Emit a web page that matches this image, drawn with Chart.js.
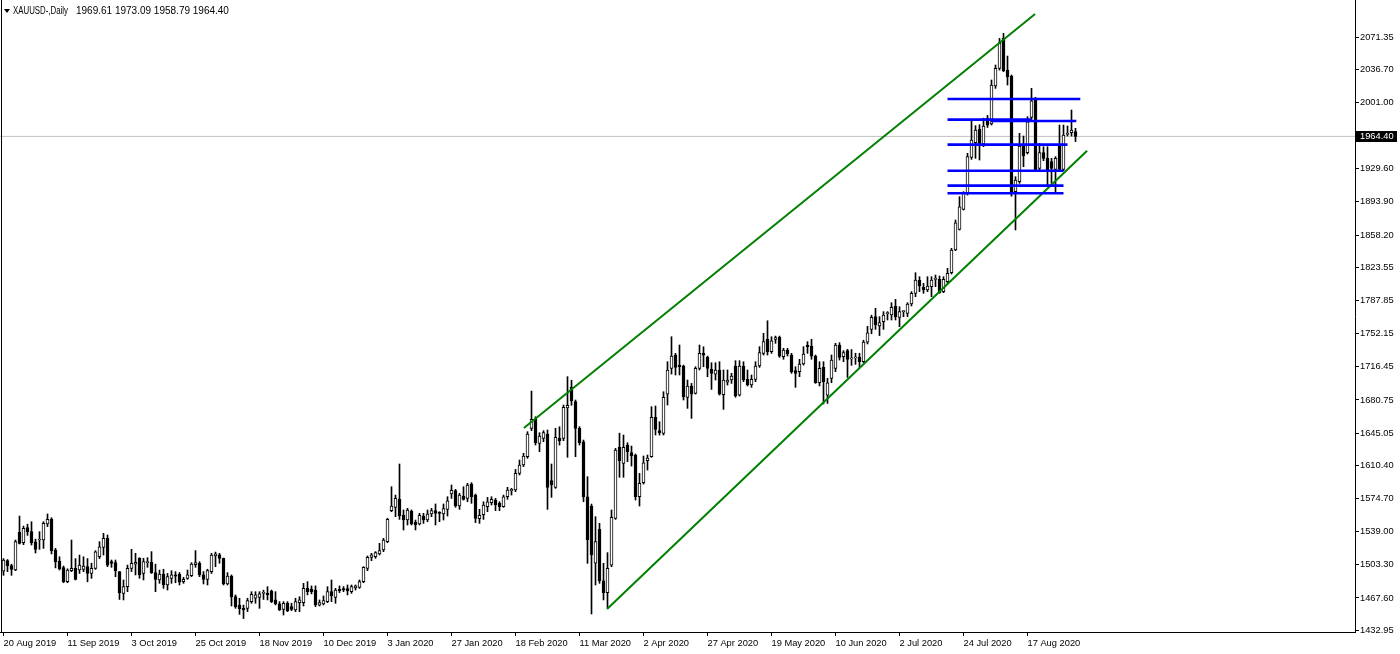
<!DOCTYPE html>
<html>
<head>
<meta charset="utf-8">
<title>XAUUSD Daily</title>
<script src="https://cdn.jsdelivr.net/npm/chart.js@4.4.0/dist/chart.umd.min.js"></script>
<style>
  html, body { margin: 0; padding: 0; background: #fff; }
</style>
</head>
<body>
<canvas id="goldChart" width="1400" height="654"></canvas>
<script>
// daily bars, index 0 = 20 Aug 2019, last = 2 Sep 2020
const opens = [
  1496.6, 1507.8, 1502.4, 1497.7, 1538.2, 1527.1, 1543.3, 1539.0, 1528.0, 1530.0,
  1530.0, 1547.2, 1552.2, 1519.2, 1507.4, 1500.2, 1485.2, 1497.0, 1499.5, 1497.7,
  1498.4, 1501.3, 1494.0, 1499.5, 1512.0, 1522.0, 1531.8, 1506.7, 1505.6, 1495.9,
  1472.6, 1479.8, 1499.5, 1504.0, 1510.3, 1494.0, 1505.6, 1506.0, 1495.0, 1487.0,
  1493.4, 1481.6, 1488.8, 1492.5, 1493.0, 1485.2, 1488.8, 1491.7, 1503.5, 1505.0,
  1492.4, 1487.7, 1496.0, 1512.8, 1514.0, 1510.3, 1482.7, 1491.3, 1469.0, 1460.0,
  1456.5, 1456.5, 1463.7, 1467.3, 1468.3, 1472.6, 1472.6, 1475.1, 1465.5, 1461.2,
  1455.4, 1461.9, 1458.3, 1454.7, 1462.6, 1462.6, 1478.0, 1477.0, 1476.2, 1459.8,
  1461.2, 1463.7, 1474.4, 1468.3, 1477.0, 1477.6, 1477.6, 1474.4, 1478.5, 1479.1,
  1485.2, 1499.5, 1511.4, 1512.1, 1515.0, 1519.3, 1528.2, 1561.6, 1565.2, 1573.8,
  1556.6, 1551.5, 1560.9, 1549.4, 1547.2, 1555.8, 1551.5, 1558.0, 1561.6, 1559.4,
  1558.0, 1563.0, 1579.5, 1583.1, 1566.6, 1577.4, 1574.8, 1590.2, 1578.4, 1553.0,
  1557.3, 1566.0, 1570.2, 1573.0, 1569.5, 1566.0, 1576.6, 1582.8, 1583.8, 1601.8,
  1610.7, 1619.7, 1650.2, 1659.9, 1634.0, 1639.4, 1644.1, 1593.9, 1586.7, 1639.4,
  1639.4, 1672.3, 1694.3, 1678.9, 1650.2, 1635.8, 1576.6, 1566.6, 1505.2, 1541.5,
  1486.2, 1473.3, 1503.0, 1553.3, 1630.0, 1612.5, 1632.2, 1624.0, 1621.5, 1576.6,
  1591.7, 1615.4, 1619.7, 1662.0, 1647.7, 1644.8, 1687.1, 1714.7, 1729.0, 1718.3,
  1717.2, 1683.5, 1695.7, 1687.8, 1714.7, 1730.9, 1726.5, 1713.6, 1708.6, 1712.9,
  1686.5, 1700.0, 1702.2, 1717.3, 1686.0, 1717.3, 1702.9, 1696.8, 1702.9, 1717.3,
  1730.9, 1746.0, 1732.7, 1746.0, 1748.1, 1727.3, 1734.5, 1729.1, 1712.3, 1711.2,
  1719.4, 1739.9, 1738.8, 1728.0, 1699.3, 1715.8, 1686.0, 1704.0, 1714.8, 1739.9,
  1727.3, 1733.8, 1725.0, 1726.0, 1727.0, 1722.0, 1743.0, 1756.7, 1770.4, 1760.3,
  1765.0, 1773.7, 1772.2, 1781.9, 1769.6, 1775.8, 1774.0, 1784.0, 1795.5, 1809.8,
  1802.0, 1799.1, 1802.7, 1810.5, 1810.5, 1797.3, 1808.0, 1817.7, 1842.1, 1864.4,
  1885.9, 1903.1, 1941.9, 1957.6, 1972.0, 1956.2, 1983.8, 1977.7, 2018.6, 2037.6,
  2069.9, 2035.8, 2029.4, 1904.9, 1915.7, 1954.0, 1946.9, 1984.9, 2005.3, 1930.0,
  1946.9, 1940.8, 1937.2, 1928.9, 1955.1, 1928.9, 1966.4, 1968.4, 1969.61
];
const highs = [
  1510.0, 1509.0, 1504.0, 1530.0, 1555.8, 1545.0, 1547.0, 1549.7, 1531.0, 1539.0,
  1549.7, 1558.0, 1554.0, 1521.0, 1512.0, 1502.0, 1499.0, 1530.0, 1510.0, 1513.8,
  1512.0, 1510.0, 1505.0, 1518.5, 1528.2, 1537.2, 1535.4, 1508.5, 1508.5, 1496.0,
  1487.0, 1503.0, 1520.0, 1515.7, 1511.0, 1510.3, 1511.0, 1517.5, 1504.0, 1497.7,
  1498.5, 1494.0, 1497.0, 1496.0, 1495.0, 1489.9, 1497.7, 1505.6, 1518.6, 1506.7,
  1496.0, 1498.5, 1515.7, 1517.0, 1515.7, 1510.6, 1494.9, 1492.4, 1470.9, 1467.3,
  1460.0, 1467.3, 1474.4, 1474.4, 1474.4, 1476.0, 1479.8, 1476.2, 1474.4, 1463.7,
  1463.7, 1463.7, 1461.9, 1467.3, 1469.0, 1483.4, 1485.2, 1480.6, 1480.6, 1465.5,
  1469.8, 1479.8, 1487.0, 1478.0, 1480.6, 1479.8, 1481.6, 1481.6, 1481.6, 1487.0,
  1501.3, 1512.8, 1515.7, 1517.5, 1526.4, 1531.8, 1553.4, 1587.4, 1578.4, 1611.8,
  1562.3, 1564.1, 1562.3, 1551.5, 1558.7, 1558.7, 1562.3, 1564.1, 1568.8, 1560.5,
  1568.8, 1576.6, 1589.2, 1584.5, 1580.2, 1587.4, 1591.0, 1591.7, 1579.5, 1563.0,
  1571.2, 1575.9, 1576.6, 1574.8, 1571.2, 1578.4, 1586.7, 1585.6, 1606.0, 1616.1,
  1623.3, 1646.6, 1690.3, 1662.7, 1645.5, 1647.7, 1648.4, 1611.8, 1650.2, 1651.9,
  1675.3, 1705.8, 1702.0, 1680.7, 1652.0, 1637.6, 1598.2, 1568.7, 1555.1, 1548.0,
  1504.9, 1516.4, 1562.3, 1628.6, 1645.0, 1643.0, 1634.7, 1631.1, 1622.6, 1601.7,
  1620.4, 1621.5, 1673.5, 1674.2, 1657.3, 1689.6, 1721.9, 1748.8, 1730.9, 1739.9,
  1718.3, 1702.2, 1698.6, 1716.5, 1739.9, 1738.0, 1728.0, 1720.8, 1720.8, 1721.9,
  1713.0, 1713.0, 1709.4, 1723.0, 1723.0, 1721.9, 1713.0, 1707.6, 1721.9, 1738.1,
  1752.4, 1766.0, 1748.8, 1749.5, 1749.5, 1736.3, 1736.3, 1730.9, 1716.5, 1724.5,
  1738.1, 1743.5, 1746.0, 1729.1, 1721.9, 1721.9, 1704.0, 1729.1, 1741.7, 1742.4,
  1733.8, 1735.2, 1735.0, 1731.0, 1731.0, 1745.0, 1760.0, 1772.0, 1779.4, 1770.4,
  1775.8, 1775.8, 1785.4, 1789.0, 1781.1, 1776.8, 1785.4, 1797.3, 1817.7, 1813.4,
  1806.2, 1813.4, 1813.4, 1815.2, 1814.1, 1813.4, 1822.4, 1843.9, 1874.4, 1899.5,
  1904.9, 1946.2, 1981.0, 1976.0, 1977.0, 1984.0, 1987.0, 2025.1, 2041.2, 2069.9,
  2075.3, 2050.9, 2030.5, 1921.0, 1967.7, 1964.8, 1985.6, 2016.1, 2006.4, 1956.9,
  1953.3, 1953.3, 1940.8, 1942.6, 1976.6, 1976.6, 1975.6, 1992.8, 1973.09
];
const lows = [
  1492.0, 1496.0, 1492.0, 1497.0, 1525.7, 1525.0, 1535.0, 1524.6, 1516.0, 1520.0,
  1521.0, 1544.4, 1515.0, 1500.0, 1497.7, 1484.0, 1484.0, 1496.0, 1487.0, 1494.0,
  1495.9, 1485.0, 1488.8, 1498.4, 1510.0, 1513.8, 1501.3, 1500.6, 1490.5, 1466.0,
  1465.5, 1474.4, 1496.0, 1492.4, 1488.8, 1487.0, 1500.6, 1494.0, 1474.4, 1483.4,
  1478.0, 1476.2, 1483.4, 1484.0, 1481.6, 1483.4, 1487.7, 1490.6, 1500.6, 1490.6,
  1482.7, 1481.6, 1494.0, 1501.3, 1505.0, 1481.6, 1481.6, 1459.0, 1456.5, 1450.0,
  1445.5, 1453.0, 1461.9, 1461.9, 1456.5, 1466.0, 1465.5, 1462.6, 1460.1, 1454.0,
  1449.3, 1452.9, 1454.0, 1452.9, 1452.9, 1459.0, 1470.9, 1472.0, 1458.3, 1459.0,
  1460.1, 1462.6, 1463.7, 1461.9, 1473.4, 1474.4, 1470.9, 1472.6, 1476.2, 1478.0,
  1484.0, 1497.0, 1507.8, 1510.3, 1513.9, 1517.5, 1527.1, 1560.5, 1555.1, 1552.2,
  1540.8, 1546.2, 1546.2, 1540.8, 1546.2, 1547.9, 1549.7, 1555.1, 1546.2, 1549.7,
  1551.5, 1555.8, 1574.8, 1565.2, 1563.0, 1573.0, 1571.2, 1569.5, 1548.7, 1547.9,
  1552.2, 1560.5, 1567.7, 1561.6, 1561.6, 1565.2, 1573.8, 1578.4, 1582.0, 1600.0,
  1609.0, 1617.9, 1647.7, 1632.2, 1625.0, 1635.8, 1563.0, 1575.9, 1585.6, 1632.2,
  1636.9, 1619.0, 1675.0, 1619.7, 1632.2, 1571.2, 1504.9, 1450.4, 1481.6, 1483.4,
  1465.5, 1456.5, 1501.3, 1552.2, 1597.5, 1597.5, 1614.3, 1609.6, 1573.0, 1566.6,
  1590.2, 1605.3, 1619.0, 1643.0, 1643.0, 1643.0, 1675.3, 1708.6, 1707.6, 1707.6,
  1680.7, 1671.7, 1660.9, 1687.1, 1713.0, 1716.5, 1705.8, 1692.1, 1702.2, 1686.0,
  1670.6, 1696.8, 1698.6, 1683.6, 1685.0, 1700.4, 1695.8, 1694.3, 1700.4, 1715.8,
  1729.1, 1729.1, 1730.9, 1741.7, 1726.6, 1724.5, 1728.0, 1709.4, 1694.3, 1705.8,
  1718.3, 1730.9, 1724.5, 1698.6, 1695.8, 1676.4, 1677.0, 1699.3, 1711.2, 1723.7,
  1721.9, 1705.0, 1718.0, 1719.0, 1716.0, 1721.0, 1741.0, 1752.0, 1756.7, 1750.0,
  1756.7, 1766.8, 1766.8, 1766.8, 1759.6, 1770.4, 1770.4, 1781.9, 1791.9, 1797.3,
  1795.5, 1797.3, 1791.9, 1802.7, 1795.5, 1796.2, 1806.2, 1816.3, 1841.4, 1863.6,
  1885.2, 1901.3, 1939.7, 1940.8, 1939.0, 1953.3, 1974.0, 1976.6, 2016.1, 2035.8,
  2034.0, 2019.7, 1900.0, 1863.7, 1913.9, 1931.8, 1945.4, 1982.7, 1927.5, 1928.2,
  1938.3, 1912.1, 1913.9, 1903.8, 1928.2, 1927.5, 1964.8, 1964.8, 1958.79
];
const closes = [
  1508.5, 1502.4, 1498.4, 1528.2, 1526.4, 1542.5, 1539.0, 1527.0, 1520.0, 1530.3,
  1548.0, 1552.2, 1518.5, 1506.7, 1498.8, 1485.2, 1497.7, 1499.5, 1487.6, 1503.0,
  1502.0, 1494.0, 1499.5, 1517.4, 1522.8, 1531.8, 1503.0, 1504.9, 1497.0, 1473.3,
  1479.8, 1499.5, 1505.0, 1506.0, 1492.4, 1506.7, 1506.0, 1494.9, 1487.7, 1493.4,
  1481.6, 1490.6, 1492.4, 1491.0, 1484.5, 1487.7, 1492.4, 1504.2, 1505.6, 1492.4,
  1487.7, 1497.0, 1513.9, 1515.0, 1510.3, 1482.7, 1491.3, 1469.0, 1458.3, 1456.2,
  1454.7, 1464.8, 1471.6, 1470.9, 1472.0, 1472.6, 1471.0, 1463.7, 1461.2, 1454.7,
  1461.9, 1454.0, 1455.4, 1463.7, 1465.5, 1478.0, 1474.4, 1474.4, 1460.1, 1462.6,
  1464.8, 1474.4, 1469.8, 1476.2, 1475.5, 1476.2, 1475.5, 1479.8, 1480.6, 1485.2,
  1500.6, 1511.4, 1514.0, 1516.4, 1518.6, 1530.0, 1552.3, 1566.6, 1574.8, 1555.8,
  1551.5, 1562.3, 1547.2, 1546.2, 1556.6, 1551.5, 1558.0, 1561.6, 1558.7, 1558.7,
  1563.7, 1572.3, 1583.5, 1566.6, 1578.4, 1573.8, 1589.2, 1576.6, 1553.3, 1556.6,
  1567.7, 1571.2, 1573.8, 1567.7, 1566.0, 1576.6, 1583.8, 1584.5, 1601.8, 1610.7,
  1620.4, 1644.1, 1659.9, 1634.7, 1641.9, 1645.5, 1586.7, 1589.2, 1640.5, 1636.9,
  1672.8, 1674.9, 1680.0, 1650.2, 1634.7, 1576.6, 1530.0, 1513.9, 1528.2, 1486.2,
  1473.3, 1499.5, 1554.4, 1626.8, 1615.5, 1629.7, 1625.0, 1620.4, 1576.6, 1591.0,
  1613.2, 1618.2, 1662.0, 1649.1, 1645.5, 1683.5, 1712.9, 1728.0, 1715.8, 1716.5,
  1684.2, 1695.7, 1687.1, 1714.7, 1730.9, 1729.0, 1714.7, 1709.3, 1712.9, 1687.1,
  1702.0, 1702.2, 1706.5, 1685.0, 1717.3, 1702.2, 1696.8, 1702.9, 1717.3, 1731.6,
  1743.5, 1732.7, 1744.5, 1748.0, 1728.0, 1734.5, 1730.2, 1711.2, 1709.4, 1719.4,
  1730.2, 1738.1, 1728.0, 1699.3, 1714.8, 1700.4, 1699.3, 1723.7, 1739.9, 1726.6,
  1731.6, 1724.5, 1726.0, 1727.0, 1722.0, 1743.0, 1753.0, 1769.6, 1761.4, 1763.9,
  1772.2, 1774.0, 1780.4, 1770.4, 1775.8, 1776.0, 1784.0, 1795.5, 1809.8, 1803.4,
  1799.1, 1803.4, 1809.8, 1810.5, 1796.2, 1810.5, 1817.0, 1842.1, 1871.5, 1888.5,
  1903.1, 1942.6, 1960.5, 1971.3, 1956.2, 1975.6, 1976.6, 2019.7, 2037.6, 2064.5,
  2035.1, 2028.7, 1903.8, 1917.5, 1954.0, 1943.3, 1980.2, 2002.8, 1928.2, 1946.9,
  1940.8, 1928.2, 1930.0, 1940.8, 1928.9, 1965.9, 1968.0, 1971.3, 1964.40
];

const dateLabels = [
  "20 Aug 2019", "11 Sep 2019", "3 Oct 2019", "25 Oct 2019", "18 Nov 2019",
  "10 Dec 2019", "3 Jan 2020", "27 Jan 2020", "18 Feb 2020", "11 Mar 2020",
  "2 Apr 2020", "27 Apr 2020", "19 May 2020", "10 Jun 2020", "2 Jul 2020",
  "24 Jul 2020", "17 Aug 2020"
];
const dateTickBars = [0, 16, 32, 48, 64, 80, 96, 112, 128, 144, 160, 176, 192, 208, 224, 240, 256];

const priceTicks = [
  2071.35, 2036.70, 2001.00, 1929.60, 1893.90, 1858.20, 1823.55, 1787.85, 1752.15,
  1716.45, 1680.75, 1645.05, 1610.40, 1574.70, 1539.00, 1503.30, 1467.60, 1432.95
];

const symbolName = "XAUUSD-,Daily";
const lastBar = "1969.61 1973.09 1958.79 1964.40";
const lastPrice = 1964.40;

// trend channel: [bar, price] end points
const upperChannel = [[130.1, 1650.6], [257.9, 2096.1]];
const lowerChannel = [[150.9, 1455.8], [270.9, 1949.0]];

// horizontal levels: [price, from bar, to bar]
const levels = [
  [2004.7, 236, 269.2],
  [1982.4, 236, 257],
  [1981.0, 246.8, 268.2],
  [1955.5, 236, 266],
  [1927.5, 236, 265],
  [1911.4, 236, 265],
  [1903.2, 236, 265]
];

const font = { family: "Liberation Sans", size: 9.3 };

const bodies = opens.map((o, i) => ({ x: i, y: [o, closes[i]] }));
const wicks = lows.map((l, i) => ({ x: i, y: [l, highs[i]] }));

function segment(points, color, width, order) {
  return {
    type: "line",
    data: points.map((p) => ({ x: p[0], y: p[1] })),
    borderColor: color,
    borderWidth: width,
    pointRadius: 0,
    fill: false,
    tension: 0,
    order: order,
  };
}

const datasets = [
  {
    // candle bodies
    data: bodies,
    backgroundColor: (ctx) => (closes[ctx.dataIndex] >= opens[ctx.dataIndex] ? "#ffffff" : "#000000"),
    borderColor: "#000000",
    borderWidth: 1,
    borderSkipped: false,
    barThickness: 3,
    minBarLength: 1,
    grouped: false,
    order: 1,
  },
  {
    // high-low
    data: wicks,
    backgroundColor: "#000000",
    borderWidth: 0,
    barThickness: 1,
    grouped: false,
    order: 2,
  },
  segment([[-1, lastPrice], [340, lastPrice]], "#c0c0c0", 1, 3),
  segment(upperChannel, "#008000", 2, -1),
  segment(lowerChannel, "#008000", 2, -1),
];
levels.forEach((lv) => {
  datasets.push(segment([[lv[1], lv[0]], [lv[2], lv[0]]], "#0000ff", 2.6, -2));
});

const chartDecor = {
  id: "chartDecor",
  afterDraw(chart) {
    const { ctx, chartArea } = chart;
    const yScale = chart.scales.y;
    ctx.save();
    // left frame line
    ctx.strokeStyle = "#000";
    ctx.lineWidth = 1;
    ctx.beginPath();
    ctx.moveTo(chartArea.left + 1.5, chartArea.top);
    ctx.lineTo(chartArea.left + 1.5, chartArea.bottom);
    ctx.stroke();

    // header
    ctx.fillStyle = "#000";
    ctx.beginPath();
    ctx.moveTo(4, 9);
    ctx.lineTo(10, 9);
    ctx.lineTo(7, 13);
    ctx.closePath();
    ctx.fill();
    ctx.textBaseline = "middle";
    ctx.textAlign = "left";
    ctx.font = "10px " + font.family;
    ctx.fillText(symbolName, 13, 11.5, 55);
    ctx.fillText(lastBar, 76, 11.5);

    // last price tag
    const y = Math.round(yScale.getPixelForValue(lastPrice));
    ctx.fillRect(chartArea.right, y - 5, 42, 11);
    ctx.fillStyle = "#fff";
    ctx.font = font.size + "px " + font.family;
    ctx.fillText(lastPrice.toFixed(2), chartArea.right + 5, y + 0.5);
    ctx.restore();
  },
};

new Chart(document.getElementById("goldChart"), {
  type: "bar",
  data: { datasets },
  options: {
    responsive: false,
    animation: false,
    events: [],
    layout: { padding: 0 },
    plugins: {
      legend: { display: false },
      tooltip: { enabled: false },
    },
    scales: {
      x: {
        type: "linear",
        min: -0.875,
        max: 337.875,
        offset: false,
        afterFit: (scale) => {
          scale.height = 22;
          scale.paddingLeft = 0;
          scale.paddingRight = 0;
        },
        afterBuildTicks: (scale) => {
          scale.ticks = dateTickBars.map((v) => ({ value: v }));
        },
        grid: {
          offset: false,
          drawOnChartArea: false,
          color: "#000",
          tickLength: 4,
        },
        border: { display: true, color: "#000" },
        ticks: {
          autoSkip: false,
          maxRotation: 0,
          align: "start",
          padding: 2,
          color: "#000",
          font: font,
          callback: (value, index) => dateLabels[index],
        },
      },
      y: {
        position: "right",
        min: 1431.0,
        max: 2111.2,
        beginAtZero: false,
        afterFit: (scale) => {
          scale.width = 45;
          scale.paddingTop = 0;
          scale.paddingBottom = 0;
        },
        afterBuildTicks: (scale) => {
          scale.ticks = priceTicks.map((v) => ({ value: v }));
        },
        grid: {
          drawOnChartArea: false,
          color: "#000",
          tickLength: 4,
        },
        border: { display: true, color: "#000" },
        ticks: {
          autoSkip: false,
          padding: 1,
          color: "#000",
          font: font,
          callback: (value) => value.toFixed(2),
        },
      },
    },
  },
  plugins: [chartDecor],
});
</script>
</body>
</html>
